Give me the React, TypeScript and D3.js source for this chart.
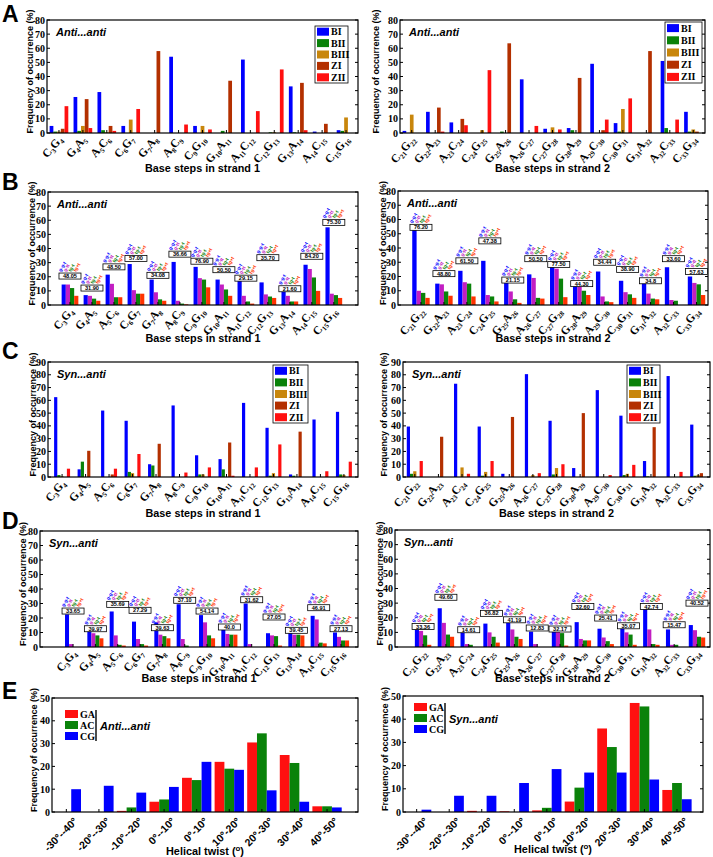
import React from "react";
import * as d3 from "d3";

const SANS = "'Liberation Sans', Arial, Helvetica, sans-serif";
const SERIF = "'Liberation Serif', 'Times New Roman', serif";

// ---------- categories ----------
const strand1 = ["C3G4", "G4A5", "A5C6", "C6G7", "G7A8", "A8C9", "C9G10", "G10A11", "A11C12", "C12G13", "G13A14", "A14C15", "C15G16"];
const strand2 = ["C21G22", "G22A23", "A23C24", "C24G25", "G25A26", "A26C27", "C27G28", "G28A29", "A29C30", "C30G31", "G31A32", "A32C33", "C33G34"];
const twistBins = ["-30°--40°", "-20°--30°", "-10°--20°", "0°--10°", "0°-10°", "10°-20°", "20°-30°", "30°-40°", "40°-50°"];

const confNames = ["BI", "BII", "BIII", "ZI", "ZII"];
const confColors = ["#0000ff", "#0a820a", "#c8860c", "#b33000", "#ff1010"];
const torsColors = ["#0000ff", "#c21ec2", "#0a820a", "#ff3300"];
const torsTags = ["g-g-t", "g-tt", "tg-t", "tg+t"];
const stepNames = ["GA", "AC", "CG"];
const stepColors = ["#ff1010", "#0a820a", "#0000ff"];

// ---------- A: anti...anti conformations ----------
const A1_BI = [5, 25.5, 29, 5, 0, 54, 5, 0, 52, 0, 33, 1, 2];
const A1_BII = [1, 1.5, 2, 0, 0, 0, 0, 1.5, 0, 0.5, 0.5, 0, 1.5];
const A1_BIII = [1, 5, 0.5, 9.5, 0, 0, 5, 0, 0, 0.5, 0, 0, 11];
const A1_ZI = [3, 24, 5, 0, 58, 0, 0, 37, 0, 0, 35.5, 6.5, 0];
const A1_ZII = [19, 3.5, 1.5, 17, 0, 6, 2.5, 0, 15.5, 45, 2, 0, 0];

const A2_BI = [1.5, 15, 7.5, 0, 0, 38, 3, 3.5, 49, 7, 0, 51, 15];
const A2_BII = [0, 0, 0, 0, 1, 0, 0, 2, 0, 1, 0, 3.5, 1];
const A2_BIII = [13, 0, 0, 2, 0, 0, 4, 0, 0, 17, 0, 0, 2.5];
const A2_ZI = [0, 18, 10, 0, 63.5, 0, 0, 39, 2, 0, 58, 0, 1];
const A2_ZII = [0, 1, 5.5, 44.5, 0, 5, 2.5, 0, 9.5, 24.5, 0, 9.5, 0];

// ---------- B: anti...anti torsion classes ----------
const B1_s1 = [14.5, 7, 21.5, 29, 18, 30.5, 27, 18, 19, 16, 9.5, 28.5, 55];
const B1_s2 = [14.5, 6.5, 15, 10.5, 9, 3, 19, 14.5, 6.5, 7.5, 6.5, 25.5, 8];
const B1_s3 = [12, 4.5, 5.5, 8, 4, 1, 18, 11, 2.5, 6, 2.5, 19.5, 7];
const B1_s4 = [6.5, 3, 5.5, 8, 3, 0.5, 12.5, 6.5, 1, 5, 2.5, 10, 5];
const B1_total = ["48.05", "31.90", "48.50", "57.00", "34.08", "36.66", "76.90", "50.50", "29.15", "35.70", "21.60", "84.20", "75.30"];
const B1_totalAt = [20.5, 12, 27, 33, 21, 36, 31, 25, 19, 33.5, 11.5, 34.5, 58.5];

const B2_s1 = [53, 15, 24, 31, 16, 21.5, 28, 14.5, 23.5, 17, 17, 26.5, 20];
const B2_s2 = [10, 14.5, 16, 7, 9.5, 19, 25.5, 13, 6, 9, 8, 3.5, 15.5];
const B2_s3 = [8.5, 9.5, 15, 6, 4, 5, 18.5, 10, 2.5, 7.5, 4.5, 3, 14.5];
const B2_s4 = [5, 6.5, 6, 2.5, 1.5, 4.5, 5.5, 7, 2, 5, 4, 0, 7];
const B2_total = ["76.20", "48.80", "61.50", "47.38", "21.15", "50.50", "77.50", "44.30", "34.44", "38.90", "34.8", "33.60", "57.63"];
const B2_totalAt = [54.5, 22, 31, 45, 17.5, 32.5, 28.5, 15, 30, 25, 17, 32.5, 23.5];

// ---------- C: syn...anti conformations ----------
const C1_BI = [62.5, 6, 52, 44, 10, 56, 17, 14, 58, 38.5, 2, 45, 51];
const C1_BII = [1.5, 12, 0, 4, 9, 0, 2, 6, 0, 1, 1, 0, 2];
const C1_BIII = [0.5, 0, 0, 3, 0, 0, 2, 0, 0, 3, 0, 0, 1.5];
const C1_ZI = [0, 20.5, 2, 0, 26, 0, 0, 27, 0, 0, 35.5, 0, 0];
const C1_ZII = [6.5, 0, 6.5, 18, 0, 3.5, 7.5, 1, 7.5, 25.5, 0, 4.5, 12];

const C2_BI = [39.5, 0, 73, 39.5, 2.5, 80.5, 44, 7, 68, 48, 12.5, 79, 41];
const C2_BII = [2.5, 0, 0, 1, 0, 0, 2, 0, 0, 1.5, 0.5, 0, 1];
const C2_BIII = [4.5, 0, 7.5, 4, 0, 1.5, 7, 0, 0, 2.5, 0, 0, 1.5];
const C2_ZI = [0, 31.5, 0, 0, 47, 0, 0, 50, 0, 0, 39, 0, 3];
const C2_ZII = [12.5, 0, 2.5, 12.5, 0, 3, 10, 0, 1.5, 9.5, 0, 4, 0];

// ---------- D: syn...anti torsion classes ----------
const D1_s1 = [22.5, 14.5, 24.5, 17.5, 17, 29.5, 22, 12, 30, 9.5, 13, 21.5, 10];
const D1_s2 = [2, 9.5, 8, 5.5, 8.5, 5.5, 17, 9, 2, 8, 8.5, 19, 7];
const D1_s3 = [0, 8, 1.5, 2, 7.5, 1, 8, 8.5, 0, 7.5, 8.5, 3, 4.5];
const D1_s4 = [0, 6, 1, 1, 6, 0, 6, 8.5, 0, 1, 8, 2.5, 4.5];
const D1_total = ["33.65", "39.97", "35.69", "27.29", "39.63", "37.10", "54.14", "40.0", "31.62", "27.05", "39.45", "46.91", "27.13"];
const D1_totalAt = [24.8, 12.6, 29.4, 25.3, 13.3, 32.2, 24.8, 13.8, 32.6, 20.7, 11.5, 27.1, 12.6];

const D2_s1 = [12, 26.5, 10.5, 16, 16.5, 10.5, 10.5, 17, 12.5, 14.5, 26, 12, 15];
const D2_s2 = [11, 16.5, 2, 10, 12, 2, 10.5, 5.5, 6.5, 10, 12, 1.5, 11.5];
const D2_s3 = [8, 8.5, 1.5, 7, 7, 0, 9.5, 4.5, 4, 8.5, 2, 1.5, 7];
const D2_s4 = [1.5, 7, 0, 3, 5.5, 0, 1, 4.5, 2, 1.5, 1.5, 0, 6.5];
const D2_total = ["33.36", "49.60", "14.61", "36.82", "41.19", "12.83", "32.17", "32.60", "25.41", "35.07", "42.74", "15.47", "40.52"];
const D2_totalAt = [14, 34, 11.8, 23, 18.6, 13, 12.3, 27.7, 19.8, 14.5, 27.7, 15.2, 30];

// ---------- E: helical twist ----------
const E1_GA = [0, 0, 0.5, 4.5, 15, 22, 30.5, 25, 2.5];
const E1_AC = [0, 0, 2, 5.5, 14, 19, 34.5, 21.5, 2.5];
const E1_CG = [10, 11.5, 8.5, 11, 22, 18.5, 9.5, 4.5, 2];
const E2_GA = [0, 0, 0.5, 0.3, 0.7, 4.5, 36, 47, 9.5];
const E2_AC = [0, 0, 0, 0, 1.8, 10.5, 28, 45.5, 12.5];
const E2_CG = [1, 7, 7, 12.5, 18.5, 17, 17, 14, 5.5];

type Panel = {
  x0: number; x1: number; yTop: number; yBot: number; yMax: number;
  xDom: [number, number]; gw: number;
  cats: string[]; series: number[][]; colors: string[];
  mode: string; xTitle: string; xTitleY: number; yLabX: number;
  catStyle: "step" | "twist";
  letter?: string; letterY?: number;
  legend?: { x: number; y: number; w: number; h: number };
  totals?: string[]; totalAt?: number[];
};

function StepLabel({ name, x, y }: { name: string; x: number; y: number }) {
  const parts = name.match(/[A-Z]\d+/g) || [];
  return (
    <text transform={`translate(${x},${y}) rotate(-50)`} textAnchor="end" fontFamily={SERIF} fontWeight="bold" fontSize={11.5}>
      {parts.map((p, i) => (
        <React.Fragment key={i}>
          <tspan dy={i > 0 ? -2.5 : 0}>{p[0]}</tspan>
          <tspan fontSize={7} dy={2.5}>{p.slice(1)}</tspan>
        </React.Fragment>
      ))}
    </text>
  );
}

function BarPanel({ p }: { p: Panel }) {
  const x = d3.scaleLinear().domain(p.xDom).range([p.x0, p.x1]);
  const y = d3.scaleLinear().domain([0, p.yMax]).range([p.yBot, p.yTop]);
  const inner = d3.scaleBand<number>().domain(d3.range(p.series.length)).range([-p.gw / 2, p.gw / 2]);
  const bw = x(inner.bandwidth()) - x(0);
  const ticks = d3.range(0, p.yMax + 0.001, 10);
  const yMid = (p.yTop + p.yBot) / 2;
  const titleW = p.catStyle === "twist" ? 78 : 115;
  return (
    <g>
      {p.letter && (
        <text x={2} y={p.letterY} fontFamily={SANS} fontWeight="bold" fontSize={23}>{p.letter}</text>
      )}
      {/* bars */}
      {p.series.map((vals, j) =>
        vals.map((v, i) => {
          const xl = x(i + 1 + (inner(j) as number));
          return v > 0 ? (
            <rect key={`${j}-${i}`} x={xl} y={y(v)} width={bw} height={y(0) - y(v)} fill={p.colors[j]} />
          ) : null;
        })
      )}
      {/* frame */}
      <rect x={p.x0} y={p.yTop} width={p.x1 - p.x0} height={p.yBot - p.yTop} fill="none" stroke="#000" strokeWidth={1.2} />
      {ticks.map((t) => (
        <g key={t}>
          <line x1={p.x0} x2={p.x0 + 3} y1={y(t)} y2={y(t)} stroke="#000" />
          <line x1={p.x1} x2={p.x1 - 3} y1={y(t)} y2={y(t)} stroke="#000" />
          <text x={p.x0 - 2} y={y(t) + 3.5} textAnchor="end" fontFamily={SERIF} fontWeight="bold" fontSize={10}>{t}</text>
        </g>
      ))}
      {p.cats.map((c, i) => (
        <line key={c} x1={x(i + 1)} x2={x(i + 1)} y1={p.yBot} y2={p.yBot - 3} stroke="#000" />
      ))}
      {/* category labels */}
      {p.cats.map((c, i) =>
        p.catStyle === "step" ? (
          <StepLabel key={c} name={c} x={x(i + 1) + 4} y={p.yBot + 7} />
        ) : (
          <text key={c} transform={`translate(${x(i + 1) + 12},${p.yBot + 10}) rotate(-45)`} textAnchor="end" fontFamily={SANS} fontWeight="bold" fontSize={10.5}>{c}</text>
        )
      )}
      {/* axis titles */}
      <text x={(p.x0 + p.x1) / 2} y={p.xTitleY} textAnchor="middle" fontFamily={SANS} fontWeight="bold" fontSize={11}
        textLength={titleW} lengthAdjust="spacingAndGlyphs">
        {p.catStyle === "twist" ? (
          <>
            Helical twist (<tspan fontSize={8} dy={-4}>o</tspan><tspan dy={4}>)</tspan>
          </>
        ) : (
          p.xTitle
        )}
      </text>
      <text transform={`translate(${p.yLabX},${yMid - 5}) rotate(-90)`} textAnchor="middle" fontFamily={SANS} fontWeight="bold" fontSize={9.3}
        textLength={124} lengthAdjust="spacingAndGlyphs">
        Frequency of occurrence (%)
      </text>
      {/* mode label */}
      {p.catStyle === "step" && (
        <text x={p.x0 + 9} y={p.yTop + 16} fontFamily={SANS} fontWeight="bold" fontStyle="italic" fontSize={11}>{p.mode}</text>
      )}
      {/* legend */}
      {p.legend && (
        <g>
          <rect x={p.legend.x} y={p.legend.y} width={p.legend.w} height={p.legend.h} fill="#fff" stroke="#000" strokeWidth={0.8} />
          {confNames.map((n, k) => {
            const rowH = p.legend!.h / confNames.length;
            const ry = p.legend!.y + rowH * k + rowH / 2;
            return (
              <g key={n}>
                <rect x={p.legend!.x + 2} y={ry - 4} width={12} height={8} fill={confColors[k]} />
                <text x={p.legend!.x + 16} y={ry + 3.5} fontFamily={SERIF} fontWeight="bold" fontSize={10}>{n}</text>
              </g>
            );
          })}
        </g>
      )}
      {/* totals with torsion tags */}
      {p.totals &&
        p.totals.map((t, i) => {
          const cx = x(i + 1);
          const cy = y(p.totalAt![i]);
          return (
            <g key={`t${i}`}>
              {torsTags.map((tag, k) => (
                <text key={tag} transform={`translate(${cx - 9 + k * 5},${cy - 4}) rotate(-60)`} fontFamily={SANS} fontWeight="bold"
                  fontSize={4.8} fill={torsColors[k]}>{tag}</text>
              ))}
              <rect x={cx - 11} y={cy - 3} width={22} height={6} fill="#fff" stroke="#000" strokeWidth={0.8} />
              <text x={cx} y={cy + 2.1} textAnchor="middle" fontFamily={SANS} fontWeight="bold" fontSize={5.6}>{t}</text>
            </g>
          );
        })}
    </g>
  );
}

function TwistLegend({ x, y, mode }: { x: number; y: number; mode: string }) {
  return (
    <g>
      {stepNames.map((n, k) => (
        <g key={n}>
          <rect x={x} y={y + k * 11} width={13} height={8} fill={stepColors[k]} />
          <text x={x + 15} y={y + k * 11 + 7.5} fontFamily={SERIF} fontWeight="bold" fontSize={10}>{n}</text>
        </g>
      ))}
      <line x1={x + 31} x2={x + 31} y1={y} y2={y + 31} stroke="#000" strokeWidth={1.4} />
      <text x={x + 35} y={y + 20} fontFamily={SANS} fontWeight="bold" fontStyle="italic" fontSize={11}>{mode}</text>
    </g>
  );
}

const AA = "Anti...anti";
const SA = "Syn...anti";
const T1 = "Base steps in strand 1";
const T2 = "Base steps in strand 2";

const panels: Panel[] = [
  { x0: 47, x1: 358, yTop: 20, yBot: 133, yMax: 80, xDom: [0.5, 13.5], gw: 0.78, cats: strand1,
    series: [A1_BI, A1_BII, A1_BIII, A1_ZI, A1_ZII], colors: confColors, mode: AA, xTitle: T1, xTitleY: 172, yLabX: 33,
    catStyle: "step", letter: "A", letterY: 22, legend: { x: 315, y: 26, w: 33, h: 57 } },
  { x0: 400, x1: 705, yTop: 20, yBot: 133, yMax: 80, xDom: [0.5, 13.5], gw: 0.78, cats: strand2,
    series: [A2_BI, A2_BII, A2_BIII, A2_ZI, A2_ZII], colors: confColors, mode: AA, xTitle: T2, xTitleY: 172, yLabX: 379,
    catStyle: "step", legend: { x: 665, y: 22, w: 37, h: 61 } },
  { x0: 48, x1: 358, yTop: 192, yBot: 305, yMax: 80, xDom: [0, 14.1], gw: 0.76, cats: strand1,
    series: [B1_s1, B1_s2, B1_s3, B1_s4], colors: torsColors, mode: AA, xTitle: T1, xTitleY: 342, yLabX: 35,
    catStyle: "step", letter: "B", letterY: 190, totals: B1_total, totalAt: B1_totalAt },
  { x0: 398, x1: 708, yTop: 191, yBot: 305, yMax: 80, xDom: [0, 13.5], gw: 0.76, cats: strand2,
    series: [B2_s1, B2_s2, B2_s3, B2_s4], colors: torsColors, mode: AA, xTitle: T2, xTitleY: 342, yLabX: 386,
    catStyle: "step", totals: B2_total, totalAt: B2_totalAt },
  { x0: 48, x1: 358, yTop: 362, yBot: 477, yMax: 90, xDom: [0.4, 13.6], gw: 0.68, cats: strand1,
    series: [C1_BI, C1_BII, C1_BIII, C1_ZI, C1_ZII], colors: confColors, mode: SA, xTitle: T1, xTitleY: 517, yLabX: 36,
    catStyle: "step", letter: "C", letterY: 359, legend: { x: 273, y: 365, w: 35, h: 58 } },
  { x0: 403, x1: 710, yTop: 362, yBot: 477, yMax: 90, xDom: [0.5, 13.5], gw: 0.68, cats: strand2,
    series: [C2_BI, C2_BII, C2_BIII, C2_ZI, C2_ZII], colors: confColors, mode: SA, xTitle: T2, xTitleY: 517, yLabX: 387,
    catStyle: "step", legend: { x: 627, y: 365, w: 33, h: 58 } },
  { x0: 40, x1: 358, yTop: 531, yBot: 647, yMax: 80, xDom: [-0.48, 13.76], gw: 0.72, cats: strand1,
    series: [D1_s1, D1_s2, D1_s3, D1_s4], colors: torsColors, mode: SA, xTitle: T1, xTitleY: 682, yLabX: 26,
    catStyle: "step", letter: "D", letterY: 529, totals: D1_total, totalAt: D1_totalAt },
  { x0: 395, x1: 710, yTop: 530, yBot: 647, yMax: 80, xDom: [-0.23, 13.57], gw: 0.72, cats: strand2,
    series: [D2_s1, D2_s2, D2_s3, D2_s4], colors: torsColors, mode: SA, xTitle: T2, xTitleY: 682, yLabX: 383,
    catStyle: "step", totals: D2_total, totalAt: D2_totalAt },
  { x0: 52, x1: 358, yTop: 698, yBot: 812, yMax: 50, xDom: [0.56, 9.95], gw: 0.9, cats: twistBins,
    series: [E1_GA, E1_AC, E1_CG], colors: stepColors, mode: AA, xTitle: "", xTitleY: 855, yLabX: 37,
    catStyle: "twist", letter: "E", letterY: 699 },
  { x0: 403, x1: 703, yTop: 696, yBot: 812, yMax: 50, xDom: [0.58, 9.8], gw: 0.9, cats: twistBins,
    series: [E2_GA, E2_AC, E2_CG], colors: stepColors, mode: SA, xTitle: "", xTitleY: 853, yLabX: 388,
    catStyle: "twist" },
];

export default function App() {
  return (
    <svg width={713} height={857} style={{ position: "absolute", left: 0, top: 0, background: "#fff" }}>
      <rect width={713} height={857} fill="#fff" />
      {panels.map((p, i) => (
        <BarPanel key={i} p={p} />
      ))}
      <TwistLegend x={65} y={710} mode={AA} />
      <TwistLegend x={414} y={703} mode={SA} />
    </svg>
  );
}
